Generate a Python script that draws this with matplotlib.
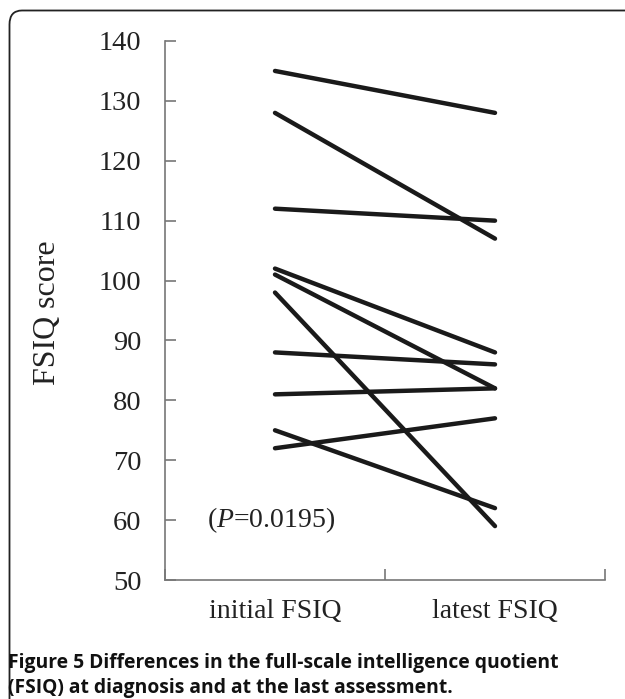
import matplotlib
matplotlib.use("Agg")
import matplotlib.pyplot as plt
from matplotlib.patches import FancyBboxPatch

plt.rcParams["mathtext.fontset"] = "custom"
plt.rcParams["mathtext.rm"] = "Liberation Serif"
plt.rcParams["mathtext.it"] = "Liberation Serif:italic"

categories = ["initial FSIQ", "latest FSIQ"]
initial_fsiq = [135, 128, 112, 102, 101, 98, 88, 81, 75, 72]
latest_fsiq = [128, 107, 110, 88, 82, 59, 86, 82, 62, 77]
yticks = [50, 60, 70, 80, 90, 100, 110, 120, 130, 140]

W, H = 625, 699
fig = plt.figure(figsize=(W / 100, H / 100), dpi=100)

# Rounded frame (open at right/bottom)
frame = FancyBboxPatch((9.5 / W, -0.05), 1.1, (H - 10.5) / H + 0.05,
                       boxstyle="round,pad=0,rounding_size=0.02",
                       transform=fig.transFigure, fill=False,
                       edgecolor="#222222", linewidth=1.3, clip_on=False)
fig.patches.append(frame)

left, right = 165 / W, 605 / W
bottom, top = 1 - 580 / H, 1 - 41 / H
ax = fig.add_axes([left, bottom, right - left, top - bottom])

xpos = [0.5, 1.5]
for a, b in zip(initial_fsiq, latest_fsiq):
    ax.plot(xpos, [a, b], color="#1a1a1a", linewidth=3.2, solid_capstyle="round")

ax.set_xlim(0, 2)
ax.set_ylim(50, 140)
ax.set_yticks(yticks)
ax.set_xticks([0, 1, 2])
ax.set_xticklabels([])
ax.set_xticks(xpos, minor=True)
ax.set_xticklabels(categories, minor=True)

serif = "Liberation Serif"
for lab in ax.get_yticklabels():
    lab.set_fontfamily(serif)
    lab.set_fontsize(20.5)
    lab.set_color("#222222")
for lab in ax.get_xticklabels(minor=True):
    lab.set_fontfamily(serif)
    lab.set_fontsize(20)
    lab.set_color("#222222")

ax.tick_params(axis="y", direction="in", length=8, width=1.2, color="#777777", pad=17)
ax.tick_params(axis="x", which="major", direction="in", length=8, width=1.2, color="#777777")
ax.tick_params(axis="x", which="minor", length=0, pad=14)

for s in ["top", "right"]:
    ax.spines[s].set_visible(False)
for s in ["left", "bottom"]:
    ax.spines[s].set_color("#777777")
    ax.spines[s].set_linewidth(1.2)

fig.text(48 / W, 1 - 313 / H, "FSIQ score", rotation=90, ha="center", va="center",
         fontfamily=serif, fontsize=23, color="#222222")

fig.text(207 / W, 1 - 520 / H, r"($\mathit{P}$=0.0195)",
         fontfamily=serif, fontsize=20, color="#222222", ha="left", va="center")

fig.text(8 / W, 1 - 663 / H, "Figure 5 Differences in the full-scale intelligence quotient",
         fontfamily="Open Sans", fontweight="bold", fontsize=13.9, color="#111111",
         ha="left", va="center")
fig.text(8 / W, 1 - 688 / H, "(FSIQ) at diagnosis and at the last assessment.",
         fontfamily="Open Sans", fontweight="bold", fontsize=13.9, color="#111111",
         ha="left", va="center")

fig.savefig("out.png", dpi=100)
